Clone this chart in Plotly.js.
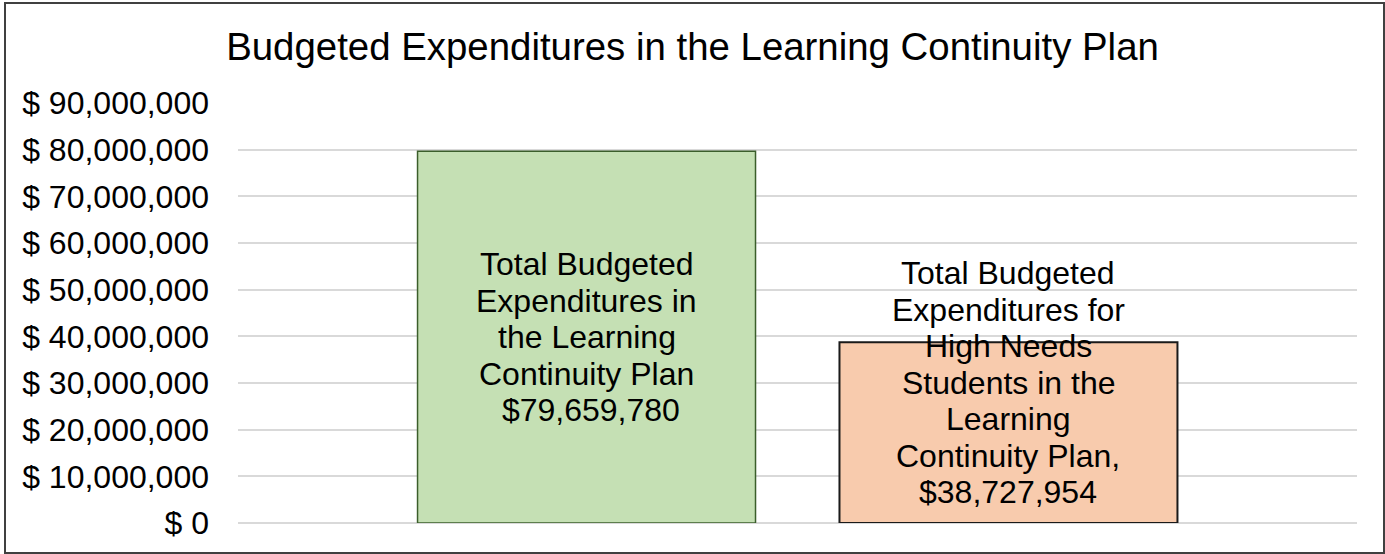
<!DOCTYPE html>
<html>
<head>
<meta charset="utf-8">
<script src="https://cdn.plot.ly/plotly-3.0.1.min.js"></script>
<style>
  html, body { margin: 0; padding: 0; background: #ffffff; }
  #wrap { position: relative; width: 1385px; height: 554px; }
  #chart { width: 1385px; height: 554px; }
  #frame { position: absolute; left: 4px; top: 2px; width: 1377px; height: 548px;
           border: 2px solid #404040; pointer-events: none; }
</style>
</head>
<body>
<div id="wrap">
  <div id="chart"></div>
  <div id="frame"></div>
</div>
<script>
const categories = ["Total Budgeted Expenditures", "High Needs Students"];
const values = [79659780, 38727954];
const labelLines = [
  ["Total Budgeted", "Expenditures in", "the Learning", "Continuity Plan", " $79,659,780"],
  ["Total Budgeted", "Expenditures for", "High Needs", "Students in the", "Learning", "Continuity Plan,", "$38,727,954"]
];
const labelOffsets = [0, 50];   // vertical pixel shift of label block above bar middle
const fillColors = ["#C5E0B4", "#F8CBAD"];
const lineColors = ["#3B5E2B", "#1a1a1a"];
const lineWidths = [1.5, 2];
const titleText = "Budgeted Expenditures in the Learning Continuity Plan";

const FONT = "Liberation Sans, Arial, sans-serif";
const LINE_GAP = 36.5;

const trace = {
  type: "bar",
  x: categories,
  y: values,
  marker: { color: fillColors, line: { color: lineColors, width: lineWidths } },
  hoverinfo: "none"
};

const annotations = [];
labelLines.forEach((lines, i) => {
  const n = lines.length;
  lines.forEach((t, j) => {
    annotations.push({
      x: categories[i], y: values[i] / 2, xref: "x", yref: "y",
      text: t, showarrow: false,
      xanchor: "center", yanchor: "middle",
      yshift: labelOffsets[i] + ((n - 1) / 2 - j) * LINE_GAP,
      font: { family: FONT, size: 32, color: "#000000" }
    });
  });
});

const layout = {
  width: 1385, height: 554,
  margin: { l: 238, r: 28, t: 103, b: 31, pad: 0 },
  paper_bgcolor: "#ffffff", plot_bgcolor: "#ffffff",
  showlegend: false,
  bargap: 0.199,
  title: {
    text: titleText,
    font: { family: FONT, size: 38.4, color: "#000000" },
    x: 0.5, xref: "container", xanchor: "center",
    y: 1 - 47 / 554, yref: "container", yanchor: "middle"
  },
  xaxis: {
    type: "category",
    range: [-0.826, 1.826],
    showticklabels: false, showgrid: false, zeroline: false, showline: false, ticks: ""
  },
  yaxis: {
    range: [0, 90000000],
    dtick: 10000000,
    tickprefix: "$ ",
    tickformat: ",d",
    showgrid: true, gridcolor: "#D9D9D9", gridwidth: 2,
    zeroline: true, zerolinecolor: "#D9D9D9", zerolinewidth: 2,
    showline: false, ticks: "",
    ticklabelstandoff: 28,
    tickfont: { family: FONT, size: 32, color: "#000000" }
  },
  annotations: annotations
};

Plotly.newPlot("chart", [trace], layout, { displayModeBar: false, staticPlot: true });
</script>
</body>
</html>
